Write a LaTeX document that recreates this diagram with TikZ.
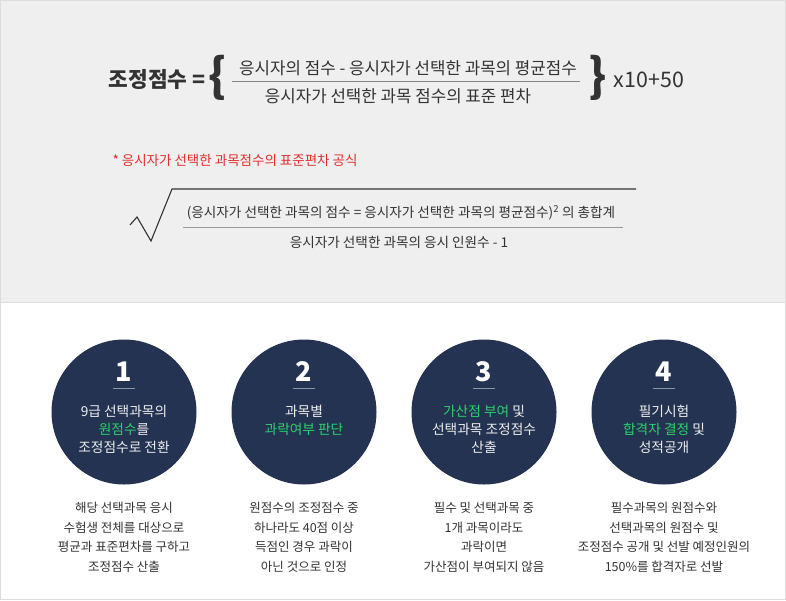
\documentclass[tikz,border=0pt]{standalone}
\usepackage{fontspec}
\setmainfont{Noto Sans CJK KR}
\usepackage{xcolor}
\usetikzlibrary{positioning,calc}
\definecolor{ink}{HTML}{333333}
\definecolor{panel}{HTML}{EFEFEF}
\definecolor{rim}{HTML}{DDDDDD}
\definecolor{alert}{HTML}{E62E2E}
\definecolor{navy}{HTML}{243352}
\definecolor{mint}{HTML}{2AD26C}
\definecolor{pale}{HTML}{EEEEEE}
\definecolor{tickgray}{HTML}{8C95A5}

\begin{document}
\begin{tikzpicture}[x=1pt,y=-1pt,
   big/.style={font=\fontsize{21.4}{24}\selectfont\bfseries,text=ink},
   brace/.style={font=\fontsize{46}{46}\selectfont\bfseries,text=ink,inner sep=0pt},
   ftxt/.style={font=\fontsize{16.8}{19}\selectfont,text=ink},
   stxt/.style={font=\fontsize{13.6}{16}\selectfont,text=ink},
   circ/.style={circle,fill=navy,minimum size=145pt,inner sep=0pt},
   num/.style={font=\fontsize{27}{27}\selectfont\bfseries,text=white},
   intxt/.style={align=center,font=\fontsize{13.7}{18}\selectfont,text=pale},
   desc/.style={align=center,font=\fontsize{12.5}{19.5}\selectfont,text=ink}]
 \useasboundingbox (0,0) rectangle (786,600);
 % panels
 \fill[white] (0,0) rectangle (786,600);
 \fill[panel] (0,0) rectangle (786,302);
 \draw[rim] (0,302) -- (786,302);
 \draw[rim] (0.5,0.5) rectangle (785.5,599.5);

 % adjusted score formula
 \node[big]   (lhs)    at (157,80)  {조정점수 =};
 \node[brace] (lbrace) at (218,78)  {\{};
 \node[ftxt]  (numer)  at (408,68)  {응시자의 점수 - 응시자가 선택한 과목의 평균점수};
 \node[ftxt]  (denom)  at (398,96)  {응시자가 선택한 과목 점수의 표준 편차};
 \node[brace] (rbrace) at (598,78)  {\}};
 \node[big,font=\fontsize{21.4}{24}\selectfont] (mult) at (649,80) {x10+50};
 \coordinate (fl) at (232,81);
 \coordinate (fr) at (580,81);
 \draw[ink!60,line width=0.8pt] (fl) -- (fr);

 % standard deviation formula
 \node[anchor=west,font=\fontsize{13.5}{16}\selectfont,text=alert] (note) at (109,160)
   {* 응시자가 선택한 과목점수의 표준편차 공식};
 \coordinate (r0) at (130,225);
 \coordinate (r1) at (137,217);
 \coordinate (r2) at (151,241);
 \coordinate (r3) at (172,189);
 \coordinate (r4) at (636,189);
 \draw[ink,line width=1.1pt,line join=miter] (r0) -- (r1) -- (r2) -- (r3) -- (r4);
 \node[stxt] (sdnum) at (401,213)
   {(응시자가 선택한 과목의 점수 = 응시자가 선택한 과목의 평균점수)\textsuperscript{2} 의 총합계};
 \node[stxt] (sdden) at (399,242) {응시자가 선택한 과목의 응시 인원수 - 1};
 \coordinate (sl) at (183,227);
 \coordinate (sr) at (623,227);
 \draw[ink!50,line width=0.8pt] (sl) -- (sr);

 % steps
 \node[circ] (c1) at (124,412) {};
 \node[circ] (c2) at (304,412) {};
 \node[circ] (c3) at (484,412) {};
 \node[circ] (c4) at (664,412) {};
 \node[num] (n1) at ($(c1)+(0,-40)$) {1};
 \node[num] (n2) at ($(c2)+(0,-40)$) {2};
 \node[num] (n3) at ($(c3)+(0,-40)$) {3};
 \node[num] (n4) at ($(c4)+(0,-40)$) {4};
 \draw[tickgray] ($(c1)+(-11,-24)$) -- ($(c1)+(11,-24)$);
 \draw[tickgray] ($(c2)+(-11,-24)$) -- ($(c2)+(11,-24)$);
 \draw[tickgray] ($(c3)+(-11,-24)$) -- ($(c3)+(11,-24)$);
 \draw[tickgray] ($(c4)+(-11,-24)$) -- ($(c4)+(11,-24)$);
 \node[intxt] (t1) at ($(c1)+(0,17.5)$) {9급 선택과목의\\\textcolor{mint}{원점수}를\\조정점수로 전환};
 \node[intxt] (t2) at ($(c2)+(0,8.5)$)  {과목별\\\textcolor{mint}{과락여부 판단}};
 \node[intxt] (t3) at ($(c3)+(0,17.5)$) {\textcolor{mint}{가산점 부여} 및\\선택과목 조정점수\\산출};
 \node[intxt] (t4) at ($(c4)+(0,17.5)$) {필기시험\\\textcolor{mint}{합격자 결정} 및\\성적공개};

 % descriptions
 \node[desc] (d1) at (124,537.5) {해당 선택과목 응시\\수험생 전체를 대상으로\\평균과 표준편차를 구하고\\조정점수 산출};
 \node[desc] (d2) at (304,537.5) {원점수의 조정점수 중\\하나라도 40점 이상\\득점인 경우 과락이\\아닌 것으로 인정};
 \node[desc] (d3) at (484,537.5) {필수 및 선택과목 중\\1개 과목이라도\\과락이면\\가산점이 부여되지 않음};
 \node[desc] (d4) at (664,537.5) {필수과목의 원점수와\\선택과목의 원점수 및\\조정점수 공개 및 선발 예정인원의\\150\%를 합격자로 선발};
\end{tikzpicture}
\end{document}
